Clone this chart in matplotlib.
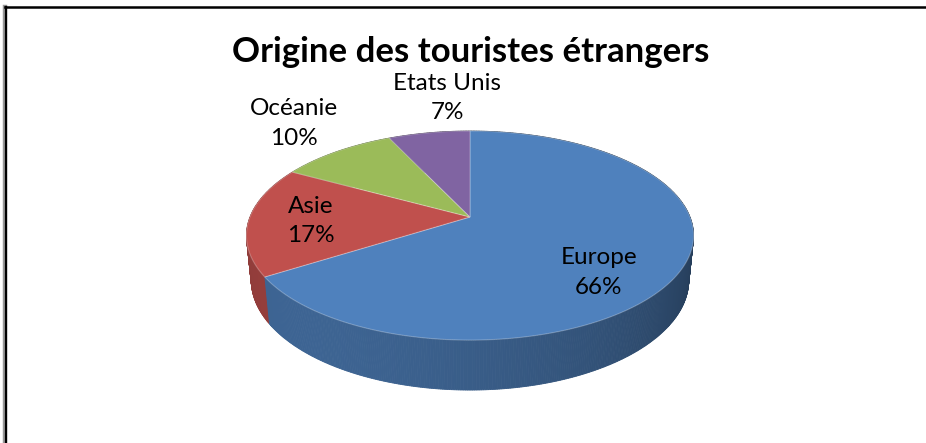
import numpy as np
import matplotlib.pyplot as plt
from matplotlib.patches import Polygon

# data
title = "Origine des touristes étrangers"
regions = ["Europe", "Asie", "Océanie", "Etats Unis"]
shares = [66, 17, 10, 7]
colors = ["#4F81BD", "#C0504D", "#9BBB59", "#8064A2"]

# layout of the 3D pie (pixel space)
W, H_PX = 926, 443
CX, CY = 470, 217          # apex of the top face
SCALE = 220                # pixels per pie radius
ELEV = np.radians(27.4)    # camera elevation
DIST = 5.0                 # camera distance in radii
THICK = 0.229              # pie thickness in radii

# label anchors: (radius, angle from top clockwise in degrees)
label_pos = [(0.73, 133), (0.72, 267), (1.46, 319), (1.49, 355)]


def project(t, r, z):
    """t: clockwise angle from the back (radians), r: radius, z: height."""
    x = r * np.sin(t)
    y = r * np.cos(t)
    depth = 1 + (y * np.cos(ELEV) - z * np.sin(ELEV)) / DIST
    u = x / depth
    v = (y * np.sin(ELEV) + z * np.cos(ELEV)) / depth
    return CX + SCALE * u, CY - SCALE * v


def shade(hex_color, factor):
    c = np.array([int(hex_color[i:i + 2], 16) for i in (1, 3, 5)]) / 255
    return tuple(np.clip(c * factor, 0, 1))


fig = plt.figure(figsize=(W / 100, H_PX / 100), dpi=100)
ax = fig.add_axes([0, 0, 1, 1])
ax.set_xlim(0, W)
ax.set_ylim(H_PX, 0)
ax.axis("off")

fractions = np.array(shares) / np.sum(shares)
bounds = np.concatenate([[0], np.cumsum(fractions)]) * 2 * np.pi

# side faces, drawn back to front
steps = np.linspace(0, 2 * np.pi, 721)
quads = []
for t1, t2 in zip(steps[:-1], steps[1:]):
    tm = (t1 + t2) / 2
    idx = np.searchsorted(bounds, tm) - 1
    light = -0.7 * np.sin(tm) - 0.7 * np.cos(tm)
    col = shade(colors[idx], 0.58 + 0.2 * light)
    pts = [project(t1, 1, 0), project(t2, 1, 0),
           project(t2, 1, -THICK), project(t1, 1, -THICK)]
    quads.append((np.cos(tm), pts, col))
quads.sort(key=lambda q: -q[0])
for _, pts, col in quads:
    ax.add_patch(Polygon(pts, closed=True, facecolor=col, edgecolor=col, linewidth=0.6))

# top faces
for i, col in enumerate(colors):
    ts = np.linspace(bounds[i], bounds[i + 1], 200)
    pts = [(CX, CY)] + [project(t, 1, 0) for t in ts]
    ax.add_patch(Polygon(pts, closed=True, facecolor=col,
                         edgecolor=(1, 1, 1, 0.25), linewidth=0.8))

# labels
for name, share, (r, ang) in zip(regions, shares, label_pos):
    x, y = project(np.radians(ang), r, 0)
    ax.text(x, y, f"{name}\n{share}%", ha="center", va="center",
            fontsize=17.5, family="Lato", linespacing=1.5, color="black")

ax.text(471, 62, title, ha="center", va="baseline", fontsize=25,
        fontweight="bold", family="Lato")

# frame lines (left and top only)
ax.plot([5, 5], [7, H_PX], color="#999999", linewidth=3.2, clip_on=False)
ax.plot([5, W], [7, 7], color="black", linewidth=1.8, clip_on=False)
ax.plot([5.5, 5.5], [7, H_PX], color="black", linewidth=1.6, clip_on=False)

fig.savefig("out.png", dpi=100)
